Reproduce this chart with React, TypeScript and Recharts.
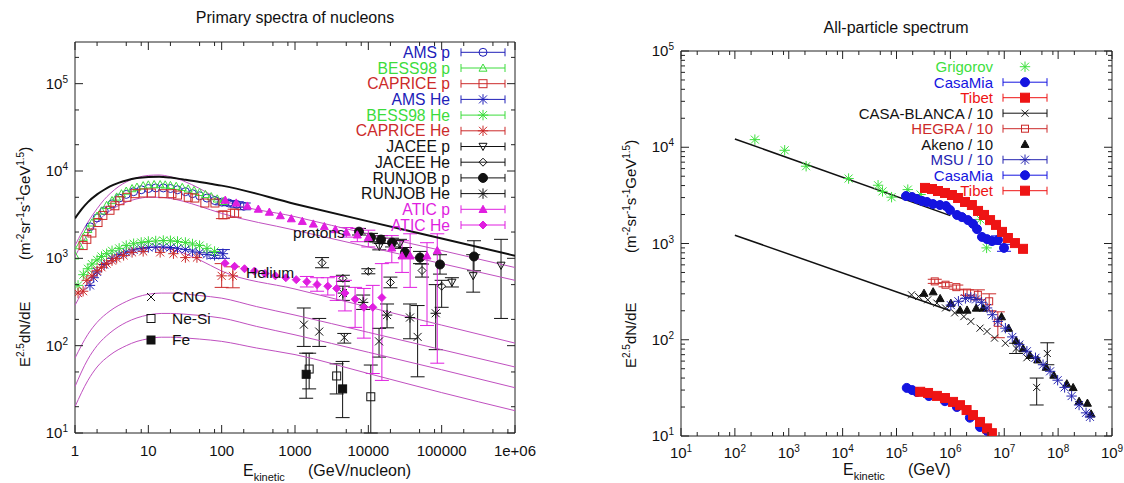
import { ScatterChart, Scatter, XAxis, YAxis, ErrorBar, ReferenceLine } from 'recharts'

type P = number[] // [E, value] or [E, value, low, high]
type Kind = 'circle' | 'dot' | 'square' | 'fsquare' | 'tri' | 'ftri' | 'dtri' | 'diamond' | 'fdiamond' | 'cross' | 'star'

// ---------- left panel: primary spectra of nucleons ----------
const BLACK_TOTAL: P[] = [[1, 2870], [1.25, 3700], [1.5, 4400], [2, 5400], [2.5, 6100], [3, 6650], [4, 7350], [5, 7800], [7, 8300], [10, 8550], [14, 8600], [20, 8400], [30, 8000], [50, 7500], [70, 7150], [100, 6800], [1e3, 4200], [1e4, 2650], [1e5, 1690], [1e6, 1070]]
const P_MODEL_A: P[] = [[1, 1400], [1.25, 2000], [1.5, 2600], [2, 3700], [2.5, 4700], [3, 5500], [4, 6700], [5, 7500], [7, 8400], [10, 8900], [14, 9000], [20, 8600], [30, 7700], [50, 6300], [70, 5400], [100, 4700], [1e3, 3000], [1e4, 1900], [1e5, 1230], [1e6, 785]]
const P_MODEL_B: P[] = [[1, 1050], [1.5, 1900], [2, 2600], [3, 3500], [5, 4400], [7, 4800], [10, 5000], [15, 5000], [20, 4850], [30, 4500], [50, 3950], [100, 3270], [1e3, 2100], [1e4, 1350], [1e5, 870], [1e6, 560]]
const HE_MODEL: P[] = [[1, 290], [1.5, 520], [2, 700], [3, 930], [5, 1170], [7, 1280], [10, 1340], [15, 1330], [20, 1270], [30, 1150], [50, 960], [100, 715], [1e3, 445], [1e4, 277], [1e5, 172], [1e6, 107]]
const CNO_MODEL: P[] = [[1, 72], [1.5, 135], [2, 185], [3, 250], [5, 320], [7, 360], [10, 388], [15, 400], [20, 400], [30, 392], [50, 375], [100, 350], [300, 280], [1e3, 224], [1e4, 142], [1e5, 90], [1e6, 57]]
const NESI_MODEL: P[] = [[1, 34], [1.5, 70], [2, 100], [3, 140], [5, 185], [7, 208], [10, 225], [15, 234], [20, 234], [30, 230], [50, 222], [100, 207], [300, 166], [1e3, 133], [1e4, 84], [1e5, 53], [1e6, 33]]
const FE_MODEL: P[] = [[1, 20], [1.5, 40], [2, 57], [3, 78], [5, 100], [7, 112], [10, 120], [15, 125], [20, 125], [30, 123], [50, 119], [100, 112], [300, 94], [1e3, 79], [1e4, 48], [1e5, 29], [1e6, 18]]

const AMS_P: P[] = [[1.6, 2300], [2, 2900], [2.5, 3500], [3.2, 4200], [4, 4900], [5, 5400], [6.3, 5800], [8, 6100], [10, 6300], [12.6, 6400], [16, 6400], [20, 6300], [25, 6100], [32, 5800], [40, 5500], [50, 5200], [63, 4900], [80, 4600], [100, 4400, 4100, 4700], [125, 4300, 4000, 4600], [160, 4150, 3850, 4450], [200, 3950, 3600, 4300]]
const BESS98_P: P[] = [[1.0, 1070], [1.15, 1400], [1.3, 1750], [1.5, 2150], [1.7, 2550], [2, 3050], [2.3, 3500], [2.7, 4050], [3.2, 4600], [3.7, 5050], [4.3, 5500], [5, 5900], [6, 6300], [7, 6550], [8.5, 6800], [10, 6950], [12, 7000], [14.5, 7000], [17, 6950], [20, 6850], [24, 6700], [29, 6500], [35, 6250], [42, 6000], [50, 5700], [60, 5400], [72, 5100], [87, 4800], [105, 4500]]
const CAPRICE_P: P[] = [[1.29, 1400], [1.45, 1650], [1.7, 1950], [2.06, 2570], [2.4, 3100], [3.0, 3550], [3.5, 4000], [4.1, 4570], [5.1, 5000], [6.6, 5500], [8.5, 5600], [11, 5600], [15.8, 5500], [21, 5500], [25, 5300], [35, 5000], [43, 4900], [59, 4300], [81, 4300], [104, 3150, 2850, 3450], [150, 3300, 2950, 3650]]
const AMS_HE: P[] = [[1.6, 490], [1.8, 600], [2, 700], [2.5, 850], [3.2, 1000], [4, 1100], [5, 1180], [6.3, 1250], [8, 1300], [10, 1330], [12.6, 1350], [16, 1350], [20, 1330], [25, 1300], [32, 1260], [40, 1210], [50, 1160], [63, 1110], [80, 1080, 1000, 1170], [104, 1130, 1000, 1260]]
const BESS98_HE: P[] = [[1.1, 490], [1.3, 650], [1.5, 760], [1.7, 860], [2, 960], [2.3, 1050], [2.7, 1130], [3.2, 1220], [4, 1300], [5, 1400], [6.3, 1470], [8, 1520], [10, 1560], [12.6, 1580], [16, 1600], [20, 1590], [25, 1560], [32, 1520], [40, 1460], [50, 1400], [63, 1300], [80, 1200]]
const CAPRICE_HE: P[] = [[1.1, 400], [1.29, 420], [1.45, 560], [1.7, 630], [2, 720], [2.3, 790], [2.7, 870], [3.2, 940], [3.7, 1000], [4.6, 1080], [6, 1170], [8.5, 1200], [14.5, 1170], [22, 1130], [32, 1020], [46, 1020], [100, 630, 465, 870], [142, 630, 460, 800]]
const JACEE_P: P[] = [[14100, 1365, 1250, 1500], [27000, 1475, 1300, 1650], [138000, 530, 470, 600], [269000, 630, 410, 1100], [645000, 830, 205, 1650]]
const JACEE_HE: P[] = [[2340, 890, 780, 1020], [4500, 590, 545, 640], [10000, 710, 665, 760], [20000, 530, 460, 610], [54000, 725, 610, 860], [100000, 480, 275, 560]]
const RUNJOB_P: P[] = [[7460, 2020, 1850, 2200], [10870, 1730, 1550, 1930], [14890, 1640, 1480, 1820], [21040, 1515, 1350, 1700], [31600, 1165, 1020, 1330], [50700, 1020, 870, 1200], [94900, 850, 660, 1100], [276000, 1050, 720, 1590]]
const RUNJOB_HE: P[] = [[4500, 400, 330, 480], [8500, 313, 260, 380], [18000, 224, 160, 300], [37000, 210, 120, 300], [83000, 235, 90, 500]]
const ATIC_P: P[] = [[112, 4650], [158, 4315], [224, 3980], [316, 3670], [447, 3390], [631, 3090], [891, 2850], [1259, 2660], [1778, 2480], [2512, 2320], [3548, 2140], [5012, 1995, 1750, 2250], [7080, 1860, 1550, 2200], [10000, 1740, 1350, 2100], [20900, 1320, 890, 1820], [28800, 1070, 690, 1590], [37150, 1070, 465, 1910], [63100, 1070, 170, 1510], [87100, 1230, 63, 1910]]
const ATIC_HE: P[] = [[111, 877], [150, 810], [205, 760], [280, 715], [390, 670], [540, 630], [750, 600], [1040, 570], [1450, 540, 470, 620], [2000, 500, 420, 600], [2800, 480, 380, 600], [3700, 452, 330, 620], [4800, 400, 250, 560], [6600, 340, 162, 465], [8700, 275, 122, 452], [11500, 275, 48, 490], [15300, 355, 40, 870]]
const CNO_DATA: P[] = [[1320, 174, 98, 270], [2140, 145, 98, 205], [4700, 124, 107, 138], [14000, 112, 74, 158], [47000, 126, 44, 288]]
const NESI_DATA: P[] = [[1560, 54, 32, 82], [3700, 45, 28, 62], [10800, 26, 10, 60]]
const FE_DATA: P[] = [[1420, 47, 25, 82], [4460, 32, 15, 66]]

// ---------- right panel: all-particle spectrum ----------
const LINE_HI: P[] = [[100, 12200], [1e6, 1950]]
const LINE_LO: P[] = [[100, 1220], [1e6, 200]]
const GRIGOROV: P[] = [[235, 12000], [840, 9300], [2100, 6350], [12900, 4730], [45500, 4030], [55000, 3480], [81000, 3030], [162000, 3630], [280000, 3230], [3.6e6, 1780], [4.7e6, 900]]
const CASAMIA_HI: P[] = [[150000, 3110], [194000, 3040], [240000, 2900], [297000, 2770], [368000, 2700], [475000, 2570], [641000, 2510], [830000, 2450], [984000, 2230], [1.33e6, 1980], [1.64e6, 1880], [2.12e6, 1750], [2.63e6, 1600], [3.12e6, 1410], [3.86e6, 1170], [4.79e6, 1110], [5.93e6, 1060], [7.66e6, 1090, 980, 1200], [9.89e6, 900, 830, 980]]
const TIBET_HI: P[] = [[338000, 3780], [456000, 3680], [589000, 3510], [794000, 3350], [1.07e6, 3190], [1.39e6, 2970], [1.87e6, 2700], [2.51e6, 2510], [3.26e6, 2180], [4.21e6, 1980], [5.45e6, 1750], [7.03e6, 1560], [9.08e6, 1320], [1.17e7, 1140], [1.58e7, 1010], [2.23e7, 880]]
const CASA_BLANCA: P[] = [[190000, 293], [257000, 282], [380000, 260], [562000, 240], [813000, 214], [1.2e6, 190], [1.78e6, 174], [2.4e6, 155], [3.55e6, 132], [4.8e6, 122], [6.6e6, 104], [1.05e7, 92], [1.66e7, 81, 72, 92], [2.63e7, 65], [4e7, 32, 21, 40], [6.3e7, 72, 55, 93]]
const HEGRA: P[] = [[513000, 404, 385, 425], [813000, 373, 355, 392], [1.29e6, 352, 335, 370], [2.04e6, 309, 290, 330], [3.24e6, 293, 260, 330], [5.25e6, 251, 200, 300], [7.6e6, 150, 105, 195]]
const AKENO: P[] = [[324000, 305], [479000, 316], [646000, 269], [1.02e6, 240], [1.51e6, 204], [2.04e6, 204], [3.02e6, 214], [4.07e6, 214], [8.9e6, 174], [1.2e7, 132], [1.66e7, 98], [2.24e7, 81], [3.0e7, 69], [4.17e7, 62], [6.0e7, 52], [8.3e7, 43], [1.45e8, 35], [1.9e8, 32], [2.45e8, 23], [3.5e8, 22], [4.1e8, 17]]
const MSU: P[] = [[1.02e6, 229], [1.41e6, 251], [1.9e6, 269], [2.4e6, 275], [3.0e6, 263], [3.8e6, 245], [4.8e6, 214], [6.0e6, 182], [7.6e6, 155], [1.05e7, 132], [1.41e7, 107], [1.9e7, 89], [2.63e7, 76], [3.8e7, 65], [5.25e7, 55], [7.1e7, 47], [9.8e7, 38], [1.32e8, 32], [1.78e8, 26], [2.45e8, 21], [3.3e8, 17.4], [3.9e8, 15.8]]
const CASAMIA_LO: P[] = [[155000, 31.6], [195000, 30], [240000, 28.6], [400000, 26], [794000, 23], [1.32e6, 20], [2.3e6, 15.5], [3.55e6, 12.4], [4.8e6, 11.3]]
const TIBET_LO: P[] = [[275000, 28.8], [385000, 28], [562000, 26.1], [794000, 24.8], [1.12e6, 22.6], [1.51e6, 20.9], [2.0e6, 18.6], [2.63e6, 16.5], [3.55e6, 14], [4.8e6, 12], [5.9e6, 10.7]]

const FONT = '"Liberation Sans", Arial, Helvetica, sans-serif'
const AX = '#222'
const TXT = '#111'
const BLUE = '#2020b8'
const GREEN = '#3cdc3c'
const RED = '#cc2a2a'
const BLACK = '#111'
const MAG = '#e01ee0'
const CURVE = '#c050c0'

interface Series { name: string; pts: P[]; kind: Kind; color: string; r?: number; bar?: boolean }
interface Curve { pts: P[]; color: string; w: number }

const LEFT_SERIES: Series[] = [
  { name: 'AMS p', pts: AMS_P, kind: 'circle', color: BLUE },
  { name: 'BESS98 p', pts: BESS98_P, kind: 'tri', color: GREEN },
  { name: 'CAPRICE p', pts: CAPRICE_P, kind: 'square', color: RED },
  { name: 'AMS He', pts: AMS_HE, kind: 'star', color: BLUE },
  { name: 'BESS98 He', pts: BESS98_HE, kind: 'star', color: GREEN },
  { name: 'CAPRICE He', pts: CAPRICE_HE, kind: 'star', color: RED },
  { name: 'JACEE p', pts: JACEE_P, kind: 'dtri', color: BLACK },
  { name: 'JACEE He', pts: JACEE_HE, kind: 'diamond', color: BLACK },
  { name: 'RUNJOB p', pts: RUNJOB_P, kind: 'dot', color: BLACK, r: 4.5 },
  { name: 'RUNJOB He', pts: RUNJOB_HE, kind: 'star', color: BLACK },
  { name: 'ATIC p', pts: ATIC_P, kind: 'ftri', color: MAG },
  { name: 'ATIC He', pts: ATIC_HE, kind: 'fdiamond', color: MAG },
]
const LEFT_EXTRA: Series[] = [
  { name: 'CNO', pts: CNO_DATA, kind: 'cross', color: BLACK },
  { name: 'Ne-Si', pts: NESI_DATA, kind: 'square', color: BLACK },
  { name: 'Fe', pts: FE_DATA, kind: 'fsquare', color: BLACK },
]
const LEFT_CURVES: Curve[] = [
  { pts: P_MODEL_A, color: CURVE, w: 1 },
  { pts: P_MODEL_B, color: CURVE, w: 1 },
  { pts: HE_MODEL, color: CURVE, w: 1 },
  { pts: CNO_MODEL, color: CURVE, w: 1 },
  { pts: NESI_MODEL, color: CURVE, w: 1 },
  { pts: FE_MODEL, color: CURVE, w: 1 },
  { pts: BLACK_TOTAL, color: BLACK, w: 2 },
]

const RIGHT_SERIES: Series[] = [
  { name: 'Grigorov', pts: GRIGOROV, kind: 'star', color: '#3ee03e', bar: false },
  { name: 'CasaMia', pts: CASAMIA_HI, kind: 'dot', color: '#1414e0', r: 4.5 },
  { name: 'Tibet', pts: TIBET_HI, kind: 'fsquare', color: '#ee1414', r: 4.5 },
  { name: 'CASA-BLANCA / 10', pts: CASA_BLANCA, kind: 'cross', color: BLACK, r: 3.5 },
  { name: 'HEGRA / 10', pts: HEGRA, kind: 'square', color: RED, r: 3.5 },
  { name: 'Akeno / 10', pts: AKENO, kind: 'ftri', color: BLACK, bar: false },
  { name: 'MSU / 10', pts: MSU, kind: 'star', color: '#2424b0' },
  { name: 'CasaMia', pts: CASAMIA_LO, kind: 'dot', color: '#1414e0', r: 4.5 },
  { name: 'Tibet', pts: TIBET_LO, kind: 'fsquare', color: '#ee1414', r: 4.5 },
]
const RIGHT_CURVES: Curve[] = [
  { pts: LINE_HI, color: BLACK, w: 1.5 },
  { pts: LINE_LO, color: BLACK, w: 1.5 },
]

const logTicks = (lo: number, hi: number, mults: number[]) => {
  const out: number[] = []
  for (let k = lo; k <= hi; k++) for (const m of mults) out.push(m * 10 ** k)
  return out
}
const LEFT_X_TICKS = logTicks(0, 5, [1, 2, 5, 8]).concat([1e6])
const LEFT_Y_TICKS = logTicks(1, 5, [1, 2, 5]).filter((v) => v <= 3e5)
const RIGHT_X_TICKS = logTicks(1, 8, [1, 2, 5, 8]).concat([1e9])
const RIGHT_Y_TICKS = logTicks(1, 4, [1, 2, 3, 4, 5, 6, 7, 8, 9]).concat([1e5])

const isDecade = (v: number) => Math.abs(Math.log10(v) - Math.round(Math.log10(v))) < 1e-9
const toData = (pts: P[]) =>
  pts.map(([x, y, lo, hi]) => ({ x, y, err: lo === undefined ? undefined : [y - lo, hi - y] }))
const hasErr = (pts: P[]) => pts.some((p) => p.length === 4)

function Glyph({ kind, x, y, c, r = 4 }: { kind: Kind; x: number; y: number; c: string; r?: number }) {
  switch (kind) {
    case 'circle':
      return <circle cx={x} cy={y} r={r} fill="none" stroke={c} />
    case 'dot':
      return <circle cx={x} cy={y} r={r} fill={c} stroke={c} />
    case 'square':
      return <rect x={x - r} y={y - r} width={2 * r} height={2 * r} fill="none" stroke={c} />
    case 'fsquare':
      return <rect x={x - r} y={y - r} width={2 * r} height={2 * r} fill={c} stroke={c} />
    case 'tri':
    case 'ftri':
      return <polygon points={`${x},${y - r} ${x + r},${y + r * 0.8} ${x - r},${y + r * 0.8}`} fill={kind === 'ftri' ? c : 'none'} stroke={c} />
    case 'dtri':
      return <polygon points={`${x},${y + r} ${x + r},${y - r * 0.8} ${x - r},${y - r * 0.8}`} fill="none" stroke={c} />
    case 'diamond':
    case 'fdiamond':
      return <polygon points={`${x},${y - r} ${x + r},${y} ${x},${y + r} ${x - r},${y}`} fill={kind === 'fdiamond' ? c : 'none'} stroke={c} />
    case 'cross':
      return <path d={`M${x - r},${y - r}L${x + r},${y + r}M${x - r},${y + r}L${x + r},${y - r}`} stroke={c} fill="none" />
    default:
      return <path d={`M${x - r},${y - r}L${x + r},${y + r}M${x - r},${y + r}L${x + r},${y - r}M${x},${y - r * 1.3}L${x},${y + r * 1.3}M${x - r * 1.3},${y}L${x + r * 1.3},${y}`} stroke={c} fill="none" />
  }
}

function xTick(top: number, fmt: 'plain' | 'pow') {
  return (p: any) => {
    const { x, y, payload } = p
    const v = payload.value as number
    const major = isDecade(v)
    const len = major ? 8 : 4
    return (
      <g>
        <line x1={x} y1={y} x2={x} y2={y - len} stroke={AX} />
        <line x1={x} y1={top} x2={x} y2={top + len} stroke={AX} />
        {major && fmt === 'plain' && (
          <text x={x} y={y + 23} textAnchor="middle" fontSize={15} fill={TXT}>{v === 1e6 ? '1e+06' : String(v)}</text>
        )}
        {major && fmt === 'pow' && (
          <text x={x} y={y + 22} textAnchor="middle" fontSize={15} fill={TXT}>
            10<tspan dy={-6} fontSize={10}>{Math.round(Math.log10(v))}</tspan>
          </text>
        )}
      </g>
    )
  }
}

function yTick(right: number) {
  return (p: any) => {
    const { x, y, payload } = p
    const v = payload.value as number
    const major = isDecade(v)
    const len = major ? 8 : 4
    return (
      <g>
        <line x1={x} y1={y} x2={x + len} y2={y} stroke={AX} />
        <line x1={right} y1={y} x2={right - len} y2={y} stroke={AX} />
        {major && (
          <text x={x - 7} y={y + 5} textAnchor="end" fontSize={15} fill={TXT}>
            10<tspan dy={-6} fontSize={10}>{Math.round(Math.log10(v))}</tspan>
          </text>
        )}
      </g>
    )
  }
}

function LegendRows({ items, textRight, x0, x1, y0, dy, size }: { items: Series[]; textRight: number; x0: number; x1: number; y0: number; dy: number; size: number }) {
  return (
    <g>
      {items.map((it, i) => {
        const y = y0 + i * dy
        return (
          <g key={i}>
            <text x={textRight} y={y + size * 0.36} textAnchor="end" fontSize={size} fill={it.color}>{it.name}</text>
            {it.bar !== false && (
              <g stroke={it.color}>
                <line x1={x0} y1={y} x2={x1} y2={y} />
                <line x1={x0} y1={y - 4} x2={x0} y2={y + 4} />
                <line x1={x1} y1={y - 4} x2={x1} y2={y + 4} />
              </g>
            )}
            <Glyph kind={it.kind} x={(x0 + x1) / 2} y={y} c={it.color} r={it.r ?? 4} />
          </g>
        )
      })}
    </g>
  )
}

function renderSeries(list: Series[], prefix: string) {
  return list.map((s, i) => (
    <Scatter key={prefix + i} data={toData(s.pts)} fill={s.color} isAnimationActive={false}
      shape={(p: any) => <Glyph kind={s.kind} x={p.cx} y={p.cy} c={s.color} r={s.r ?? 4} />}>
      {hasErr(s.pts) && <ErrorBar dataKey="err" direction="y" width={7} stroke={s.color} strokeWidth={1} />}
    </Scatter>
  ))
}

function renderCurves(list: Curve[], prefix: string) {
  return list.map((c, i) => (
    <Scatter key={prefix + i} data={toData(c.pts)} fill={c.color} isAnimationActive={false}
      line={{ stroke: c.color, strokeWidth: c.w }} lineJointType="monotoneX" shape={() => <g />} />
  ))
}

const LM = { top: 42, right: 45, bottom: 20, left: 25 }
const RM = { top: 51, right: 12, bottom: 17, left: 71 }

export default function App() {
  return (
    <div style={{ position: 'absolute', left: 0, top: 0, width: 1124, height: 483, background: '#fff', fontFamily: FONT }}>
      {/* left panel */}
      <div style={{ position: 'absolute', left: 0, top: 0 }}>
        <ScatterChart width={560} height={483} margin={LM} style={{ fontFamily: FONT }}>
          <XAxis type="number" dataKey="x" scale="log" domain={[1, 1e6]} allowDataOverflow ticks={LEFT_X_TICKS} interval={0}
            tickSize={0} tickMargin={0} tickLine={false} axisLine={{ stroke: AX }} height={30} tick={xTick(LM.top, 'plain')} />
          <YAxis type="number" dataKey="y" scale="log" domain={[10, 3e5]} allowDataOverflow ticks={LEFT_Y_TICKS} interval={0}
            tickSize={0} tickMargin={0} tickLine={false} axisLine={{ stroke: AX }} width={50} tick={yTick(560 - LM.right)} />
          <ReferenceLine y={3e5} stroke={AX} />
          <ReferenceLine x={1e6} stroke={AX} />
          {renderCurves(LEFT_CURVES, 'lc')}
          {renderSeries(LEFT_EXTRA, 'le')}
          {renderSeries(LEFT_SERIES, 'ls')}
        </ScatterChart>
        <svg width={560} height={483} style={{ position: 'absolute', left: 0, top: 0, pointerEvents: 'none', fontFamily: FONT }}>
          <text x={295} y={23} textAnchor="middle" fontSize={16} fill={TXT}>Primary spectra of nucleons</text>
          <g transform="rotate(-90)" fontSize={15} fill={TXT}>
            <text x={-367} y={30}>E<tspan dy={-6} fontSize={10}>2.5</tspan><tspan dy={6}>dN/dE</tspan></text>
            <text x={-260} y={30}>(m<tspan dy={-6} fontSize={10}>-2</tspan><tspan dy={6}>sr</tspan><tspan dy={-6} fontSize={10}>-1</tspan><tspan dy={6}>s</tspan><tspan dy={-6} fontSize={10}>-1</tspan><tspan dy={6}>GeV</tspan><tspan dy={-6} fontSize={10}>1.5</tspan><tspan dy={6}>)</tspan></text>
          </g>
          <text x={243} y={476} fontSize={16} fill={TXT}>E<tspan dy={5} fontSize={11}>kinetic</tspan></text>
          <text x={308} y={476} fontSize={16} fill={TXT}>(GeV/nucleon)</text>
          <LegendRows items={LEFT_SERIES} textRight={450} x0={461} x1={505} y0={52.3} dy={15.7} size={15.7} />
          <text x={293} y={238} fontSize={15.5} fill={TXT}>protons</text>
          <text x={246} y={278} fontSize={15.5} fill={TXT}>Helium</text>
          {LEFT_EXTRA.map((s, i) => (
            <g key={i}>
              <Glyph kind={s.kind} x={151} y={297 + i * 21.5} c={s.color} r={4} />
              <text x={172} y={302 + i * 21.5} fontSize={15.5} fill={TXT}>{s.name}</text>
            </g>
          ))}
        </svg>
      </div>

      {/* right panel */}
      <div style={{ position: 'absolute', left: 560, top: 0 }}>
        <ScatterChart width={564} height={483} margin={RM} style={{ fontFamily: FONT }}>
          <XAxis type="number" dataKey="x" scale="log" domain={[10, 1e9]} allowDataOverflow ticks={RIGHT_X_TICKS} interval={0}
            tickSize={0} tickMargin={0} tickLine={false} axisLine={{ stroke: AX }} height={30} tick={xTick(RM.top, 'pow')} />
          <YAxis type="number" dataKey="y" scale="log" domain={[10, 1e5]} allowDataOverflow ticks={RIGHT_Y_TICKS} interval={0}
            tickSize={0} tickMargin={0} tickLine={false} axisLine={{ stroke: AX }} width={50} tick={yTick(564 - RM.right)} />
          <ReferenceLine y={1e5} stroke={AX} />
          <ReferenceLine x={1e9} stroke={AX} />
          {renderCurves(RIGHT_CURVES, 'rc')}
          {renderSeries(RIGHT_SERIES, 'rs')}
        </ScatterChart>
        <svg width={564} height={483} style={{ position: 'absolute', left: 0, top: 0, pointerEvents: 'none', fontFamily: FONT }}>
          <text x={336} y={33} textAnchor="middle" fontSize={16} fill={TXT}>All-particle spectrum</text>
          <g transform="rotate(-90)" fontSize={15} fill={TXT}>
            <text x={-368} y={76}>E<tspan dy={-6} fontSize={10}>2.5</tspan><tspan dy={6}>dN/dE</tspan></text>
            <text x={-253} y={76}>(m<tspan dy={-6} fontSize={10}>-2</tspan><tspan dy={6}>sr</tspan><tspan dy={-6} fontSize={10}>-1</tspan><tspan dy={6}>s</tspan><tspan dy={-6} fontSize={10}>-1</tspan><tspan dy={6}>GeV</tspan><tspan dy={-6} fontSize={10}>1.5</tspan><tspan dy={6}>)</tspan></text>
          </g>
          <text x={283} y={475} fontSize={16} fill={TXT}>E<tspan dy={5} fontSize={11}>kinetic</tspan></text>
          <text x={348} y={475} fontSize={16} fill={TXT}>(GeV)</text>
          <LegendRows items={RIGHT_SERIES} textRight={433} x0={443} x1={487} y0={66.7} dy={15.5} size={15} />
        </svg>
      </div>
    </div>
  )
}
